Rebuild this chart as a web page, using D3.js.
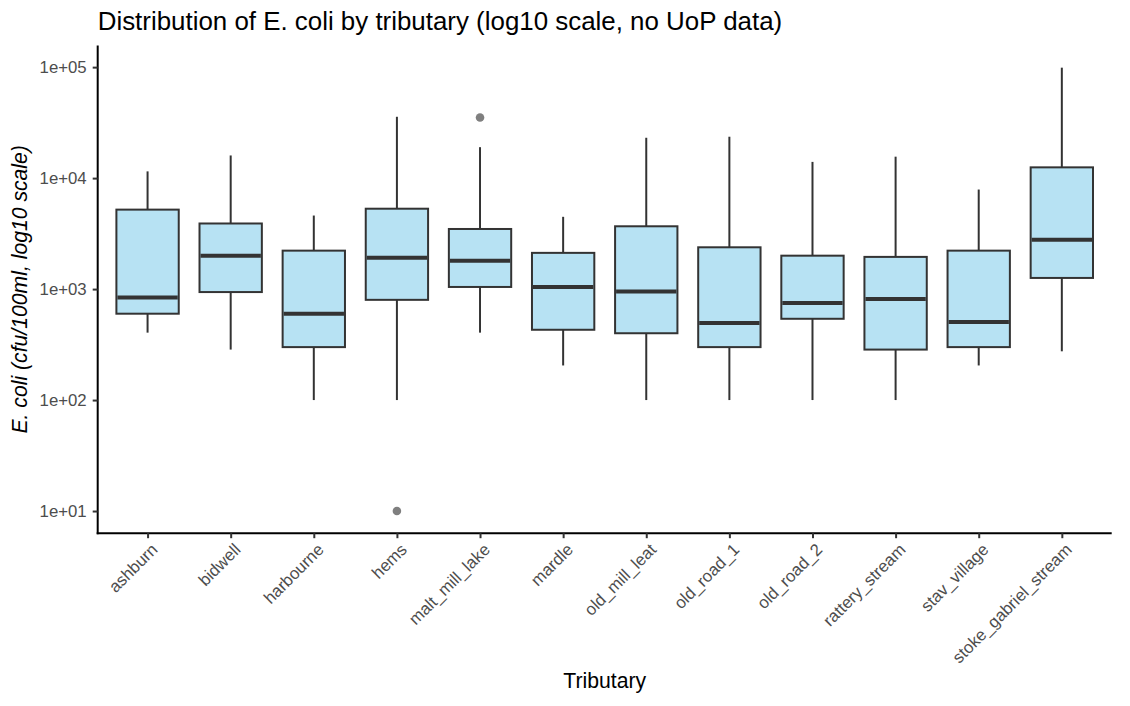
<!DOCTYPE html>
<html>
<head>
<meta charset="utf-8">
<script src="https://cdn.jsdelivr.net/npm/d3@7"></script>
<style>
  body { margin: 0; background: #fff; }
  text { font-family: "Liberation Sans", Arial, sans-serif; }
</style>
</head>
<body>
<svg id="chart"></svg>
<script>
// data (cfu/100ml)
const tributaries = ["ashburn", "bidwell", "harbourne", "hems", "malt_mill_lake", "mardle",
  "old_mill_leat", "old_road_1", "old_road_2", "rattery_stream", "stav_village", "stoke_gabriel_stream"];
const whiskerLow  = [405, 285, 100, 100, 405, 205, 100, 100, 100, 100, 205, 275];
const q1          = [600, 940, 300, 800, 1045, 430, 400, 300, 540, 285, 300, 1260];
const medians     = [840, 2000, 600, 1920, 1800, 1045, 950, 495, 750, 815, 505, 2790];
const q3          = [5200, 3900, 2220, 5300, 3480, 2120, 3680, 2380, 2000, 1950, 2220, 12500];
const whiskerHigh = [11500, 16000, 4600, 35700, 19000, 4480, 23100, 23600, 14000, 15600, 7890, 98900];
const outliers    = [[], [], [], [10], [35200], [], [], [], [], [], [], []];
const yTicks = [10, 100, 1000, 10000, 100000];

const width = 1130, height = 706;
const margin = {top: 45.5, right: 18.3, bottom: 172.8, left: 97.7};

const svg = d3.select("#chart").attr("width", width).attr("height", height);

const boxes = tributaries.map((t, i) => ({
  name: t, lo: whiskerLow[i], q1: q1[i], med: medians[i], q3: q3[i], hi: whiskerHigh[i], out: outliers[i]
}));

// x: discrete, 0.6 step expansion like ggplot
const x = d3.scalePoint()
  .domain(tributaries)
  .range([margin.left, width - margin.right])
  .padding(0.6);
const boxW = x.step() * 0.75;

// y: log10, 5% expansion of the log range
const allVals = boxes.flatMap(b => [b.lo, b.hi, ...b.out]);
const lmin = Math.log10(d3.min(allVals)), lmax = Math.log10(d3.max(allVals));
const pad = (lmax - lmin) * 0.05;
const y = d3.scaleLog()
  .domain([Math.pow(10, lmin - pad), Math.pow(10, lmax + pad)])
  .range([height - margin.bottom, margin.top]);

const lineCol = "#333333";

const g = svg.append("g");

// whiskers
g.selectAll(".whisker")
  .data(boxes)
  .join("g")
  .each(function(d) {
    const el = d3.select(this);
    el.append("line").attr("x1", x(d.name)).attr("x2", x(d.name))
      .attr("y1", y(d.q3)).attr("y2", y(d.hi))
      .attr("stroke", lineCol).attr("stroke-width", 2);
    el.append("line").attr("x1", x(d.name)).attr("x2", x(d.name))
      .attr("y1", y(d.q1)).attr("y2", y(d.lo))
      .attr("stroke", lineCol).attr("stroke-width", 2);
  });

// boxes
g.selectAll(".box")
  .data(boxes)
  .join("rect")
    .attr("x", d => x(d.name) - boxW / 2)
    .attr("y", d => y(d.q3))
    .attr("width", boxW)
    .attr("height", d => y(d.q1) - y(d.q3))
    .attr("fill", "skyblue")
    .attr("fill-opacity", 0.6)
    .attr("stroke", lineCol)
    .attr("stroke-width", 2);

// medians
g.selectAll(".median")
  .data(boxes)
  .join("line")
    .attr("x1", d => x(d.name) - boxW / 2 + 1)
    .attr("x2", d => x(d.name) + boxW / 2 - 1)
    .attr("y1", d => y(d.med))
    .attr("y2", d => y(d.med))
    .attr("stroke", lineCol)
    .attr("stroke-width", 4);

// outliers
g.selectAll(".outlier")
  .data(boxes.flatMap(b => b.out.map(v => ({name: b.name, v: v}))))
  .join("circle")
    .attr("cx", d => x(d.name))
    .attr("cy", d => y(d.v))
    .attr("r", 4.3)
    .attr("fill", "#000")
    .attr("fill-opacity", 0.5);

// axes
const xAxis = svg.append("g")
  .attr("transform", `translate(0,${height - margin.bottom})`)
  .call(d3.axisBottom(x).tickSize(5).tickSizeOuter(0).tickPadding(3));
const yAxis = svg.append("g")
  .attr("transform", `translate(${margin.left},0)`)
  .call(d3.axisLeft(y).tickValues(yTicks).tickSize(5).tickSizeOuter(0).tickPadding(6)
    .tickFormat(d => "1e+" + String(Math.round(Math.log10(d))).padStart(2, "0")));

[xAxis, yAxis].forEach(ax => {
  ax.select(".domain").attr("stroke", "#000").attr("stroke-width", 2);
  ax.selectAll(".tick line").attr("stroke", lineCol).attr("stroke-width", 2);
  ax.selectAll(".tick text").attr("fill", "#4d4d4d").style("font-size", "16.8px");
});
// extend axis lines to meet at the corner
xAxis.select(".domain").attr("d", `M${margin.left - 1},0H${width - margin.right}`);
yAxis.select(".domain").attr("d", `M0,${margin.top}V${height - margin.bottom + 1}`);

xAxis.selectAll(".tick text")
  .attr("text-anchor", "end")
  .attr("dominant-baseline", "hanging")
  .attr("dy", null)
  .attr("y", null)
  .attr("transform", "translate(2,9) rotate(-45)");

yAxis.selectAll(".tick text").attr("dominant-baseline", "central").attr("dy", null);

// titles
svg.append("text")
  .attr("x", margin.left).attr("y", 29.5)
  .text("Distribution of E. coli by tributary (log10 scale, no UoP data)")
  .style("font-size", "25.9px").attr("fill", "#000");

svg.append("text")
  .attr("x", (margin.left + width - margin.right) / 2).attr("y", 687.7)
  .attr("text-anchor", "middle")
  .text("Tributary")
  .style("font-size", "21.2px").attr("fill", "#000");

svg.append("text")
  .attr("transform", `translate(27.4,${(margin.top + height - margin.bottom) / 2}) rotate(-90)`)
  .attr("text-anchor", "middle")
  .text("E. coli (cfu/100ml, log10 scale)")
  .style("font-size", "21.2px").style("font-style", "italic").attr("fill", "#000");
</script>
</body>
</html>
